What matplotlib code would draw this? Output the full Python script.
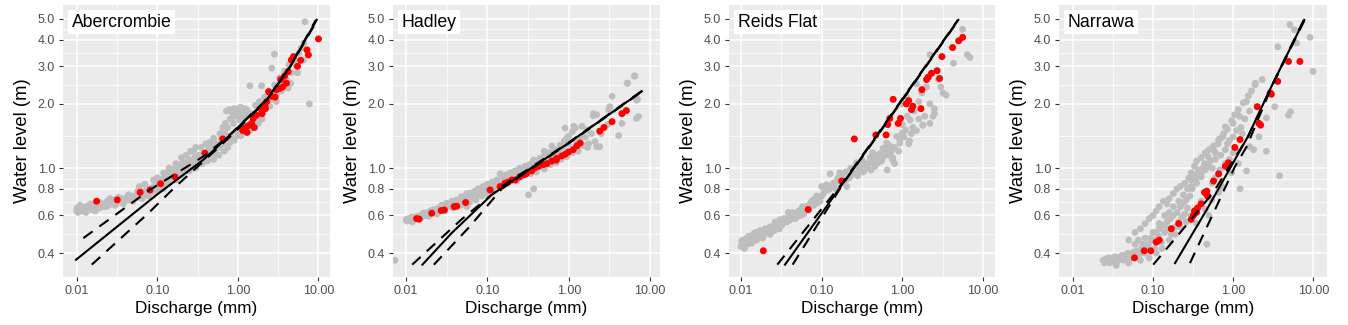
import matplotlib
matplotlib.use("Agg")
import matplotlib.pyplot as plt
from matplotlib.ticker import FixedLocator, FixedFormatter, NullFormatter

plt.rcParams['font.family'] = ['Liberation Sans', 'DejaVu Sans']

# ---------------- data (discharge q in mm, water level h in m) ----------------
panel_names = ["Abercrombie", "Hadley", "Reids Flat", "Narrawa"]

x_breaks = [0.01, 0.1, 1.0, 10.0]
x_labels = ["0.01", "0.10", "1.00", "10.00"]
y_breaks = [0.4, 0.6, 0.8, 1.0, 2.0, 3.0, 4.0, 5.0]
y_labels = ["0.4", "0.6", "0.8", "1.0", "2.0", "3.0", "4.0", "5.0"]

# --- Abercrombie
ab_gray = [(0.0100,0.63),(0.0101,0.65),(0.0104,0.62),(0.0108,0.64),(0.0112,0.66),(0.0116,0.63),(0.0120,0.65),
           (0.0125,0.64),(0.0130,0.66),(0.0136,0.65),(0.0142,0.67),(0.0150,0.64),(0.0158,0.66),(0.0165,0.68),
           (0.0175,0.65),(0.0185,0.67),(0.0195,0.69),(0.021,0.66),(0.022,0.68),(0.024,0.70),(0.025,0.67),
           (0.027,0.69),(0.029,0.71),(0.031,0.68),(0.034,0.70),(0.036,0.72),(0.039,0.70),(0.042,0.73),
           (0.045,0.71),(0.048,0.74),(0.052,0.72),(0.055,0.75),(0.058,0.73),(0.062,0.77),(0.066,0.74),
           (0.070,0.78),(0.075,0.76),(0.080,0.80),(0.085,0.77),(0.090,0.82),(0.095,0.79),(0.100,0.84),
           (0.105,0.80),(0.110,0.87),(0.115,0.83),(0.120,0.90),(0.125,0.85),(0.130,0.93),(0.135,0.88),
           (0.140,0.96),(0.150,0.91),(0.155,0.99),(0.165,0.94),(0.175,1.01),(0.185,0.96),(0.195,1.04),
           (0.21,0.98),(0.22,1.06),(0.24,1.01),(0.25,1.09),(0.27,1.04),(0.28,1.20),(0.29,1.12),(0.31,1.06),
           (0.33,1.15),(0.35,1.25),(0.35,1.10),(0.38,1.18),(0.40,1.13),(0.43,1.22),(0.45,1.32),(0.45,1.16),
           (0.48,1.26),(0.50,1.15),(0.52,1.20),(0.55,1.30),(0.60,1.25),(0.62,1.38),(0.66,1.30),(0.70,1.45),
           (0.72,1.85),(0.78,1.88),(0.84,1.83),(0.90,1.90),(0.96,1.86),(1.02,1.89),(1.08,1.93),(1.15,1.85),
           (1.22,1.90),(1.30,1.87),(0.75,1.55),(0.82,1.40),(0.88,1.62),(0.95,1.48),(1.05,1.68),(1.12,1.52),
           (1.25,1.75),(1.35,1.58),(1.45,1.80),(1.55,1.65),(1.65,1.97),(1.75,1.72),(1.85,2.05),(1.95,1.82),
           (2.15,2.15),(2.3,1.95),(2.45,2.30),(2.65,2.10),(2.85,2.45),(3.1,2.25),(3.3,2.65),(3.55,2.45),
           (3.8,2.85),(4.0,2.60),(4.3,3.05),(4.6,2.80),(5.0,3.20),(5.3,3.00),(5.7,3.45),(6.1,3.65),(6.6,3.85),
           (6.8,4.85),(2.84,3.42),(2.63,2.94),(1.41,2.43),(1.97,2.43),(7.7,2.0),(4.2,2.37),
           (0.06,0.82),(0.07,0.84),(0.09,0.88),(0.1,0.90),(0.12,0.95),(0.14,1.0),(0.17,1.05),(0.2,1.12),
           (0.23,1.15),(0.26,1.2),(0.3,1.25),(0.4,1.3),(0.5,1.38),(0.6,1.45),(0.65,1.55),(0.7,1.62),(0.8,1.7),
           (0.9,1.75),(1.0,1.78),(1.1,1.72),(1.2,1.8),(0.011,0.67),(0.013,0.62),(0.015,0.68),(0.017,0.63),
           (0.019,0.65),(0.023,0.66),(0.026,0.72),(0.03,0.67),(0.033,0.73),(0.038,0.68),(0.044,0.75),(0.05,0.70),
           (0.057,0.78),(0.065,0.72),(0.078,0.74),(0.088,0.78),(0.098,0.82),(0.12,0.80),(0.14,0.85),(0.17,0.88),
           (0.2,0.93),(0.25,0.97),(0.3,1.0),(0.36,1.05),(0.42,1.08),(0.5,1.1),(0.58,1.15),(0.68,1.2),(0.75,1.25),
           (0.8,1.32),(0.9,1.35),(1.0,1.42),(1.1,1.42),(1.4,1.5),(1.8,1.62),(2.0,1.7),(2.5,1.95),(3.0,2.05),
           (3.5,2.3),(4.5,2.5),(5.5,2.8),(6.5,3.2)]
ab_red = [(0.0177,0.70),(0.0319,0.71),(0.0613,0.77),(0.0814,0.79),(0.11,0.845),(0.166,0.91),(0.39,1.175),
          (0.65,1.37),(1.23,1.54),(1.35,1.58),(1.48,1.62),(1.55,1.71),(1.7,1.77),(1.97,1.88),(2.17,1.95),
          (2.28,2.05),(2.63,2.17),(2.4,2.28),(3.0,2.33),(3.3,2.36),(3.4,2.6),(3.8,2.7),(4.2,2.83),(4.6,3.21),
          (4.9,3.33),(7.2,3.58),(7.5,3.39),(10.0,4.03),(1.15,1.5),(1.3,1.47),(1.6,1.55),(2.0,1.8),(2.2,1.9),
          (2.9,2.15),(3.6,2.4),(4.0,2.5),(5.5,3.0),(6.0,3.2)]
ab_fit = [(0.0098,0.372),(0.0984,0.75),(0.373,1.094),(0.763,1.406),(2.28,2.09),(4.45,2.99),(9.5,4.95)]
ab_upper = [(0.0121,0.47),(0.0813,0.792),(0.373,1.134),(0.728,1.39),(2.28,2.1),(4.45,3.0),(9.3,4.95)]
ab_lower = [(0.0154,0.353),(0.0775,0.615),(0.166,0.815),(0.373,1.075),(0.88,1.45),(2.28,2.08),(4.45,2.98),(9.7,4.95)]

# --- Hadley
ha_gray = [(0.0073,0.37),(0.0100,0.573),(0.0103,0.565),(0.0107,0.58),(0.0112,0.57),(0.0117,0.59),(0.0123,0.575),
           (0.0129,0.585),(0.0136,0.595),(0.0142,0.58),(0.0149,0.60),(0.0156,0.59),(0.0163,0.615),(0.0172,0.60),
           (0.0180,0.62),(0.0188,0.61),(0.0200,0.63),(0.0217,0.64),(0.0230,0.625),(0.0250,0.65),(0.0262,0.635),
           (0.0274,0.67),(0.0290,0.655),(0.0316,0.685),(0.0335,0.665),(0.0365,0.70),(0.039,0.68),(0.042,0.71),
           (0.045,0.69),(0.048,0.735),(0.052,0.70),(0.055,0.75),(0.058,0.72),(0.062,0.765),(0.066,0.73),
           (0.070,0.78),(0.075,0.745),(0.077,0.80),(0.082,0.76),(0.088,0.82),(0.094,0.78),(0.1,0.84),(0.107,0.80),
           (0.113,0.86),(0.12,0.82),(0.13,0.88),(0.14,0.84),(0.15,0.91),(0.16,0.86),(0.17,0.93),(0.18,0.88),
           (0.19,0.95),(0.20,0.90),(0.22,0.97),(0.24,0.92),(0.25,1.0),(0.27,0.94),(0.29,1.02),(0.32,0.97),
           (0.33,1.04),(0.36,0.99),(0.38,1.08),(0.41,1.01),(0.44,1.11),(0.48,1.04),(0.50,1.14),(0.55,1.07),
           (0.58,1.18),(0.62,1.10),(0.67,1.22),(0.72,1.12),(0.78,1.28),(0.82,1.15),(0.88,1.34),(0.95,1.18),
           (0.99,1.41),(1.05,1.20),(1.1,1.48),(1.15,1.22),(1.2,1.54),(1.3,1.25),(1.45,1.57),(1.5,1.28),
           (1.75,1.30),(2.0,1.76),(2.1,1.33),(2.2,1.78),(3.1,1.88),(3.4,2.17),(4.5,1.62),(4.1,1.42),(2.2,1.26),
           (5.3,2.5),(6.4,2.7),(7.2,1.745),(6.8,2.08),(0.37,0.80),(0.32,0.75),(0.9,1.54),(1.15,1.57),(1.6,1.40),
           (2.5,1.45),(3.0,1.6),
           (0.012,0.56),(0.014,0.575),(0.016,0.6),(0.019,0.595),(0.021,0.615),(0.024,0.61),(0.028,0.64),
           (0.03,0.63),(0.034,0.66),(0.038,0.65),(0.043,0.68),(0.047,0.67),(0.05,0.72),(0.056,0.66),(0.056,0.76),
           (0.06,0.69),(0.065,0.75),(0.072,0.71),(0.08,0.78),(0.085,0.74),(0.09,0.80),(0.1,0.76),(0.11,0.82),
           (0.12,0.86),(0.125,0.79),(0.143,0.82),(0.143,0.94),(0.16,0.92),(0.175,0.85),(0.19,0.90),(0.21,0.96),
           (0.23,0.87),(0.26,0.95),(0.3,1.0),(0.34,0.94),(0.37,1.09),(0.4,0.96),(0.45,1.05),(0.5,0.99),
           (0.55,1.15),(0.6,1.04),(0.65,1.15),(0.7,1.06),(0.75,1.2),(0.8,1.1),(0.85,1.25),(0.94,1.13),
           (0.94,1.38),(1.0,1.3),(1.1,1.18),(1.2,1.35),(1.3,1.2),(1.4,1.4),(1.67,1.51),(2.0,1.8),(2.4,1.26),
           (3.2,1.94),(5.2,2.5),(6.5,2.7),(6.8,1.71),(7.0,2.1),(1.7,1.25),(1.9,1.45),(0.62,1.27),(0.5,1.2)]
ha_red = [(0.0135,0.58),(0.0145,0.577),(0.0207,0.615),(0.027,0.633),(0.0296,0.637),(0.039,0.66),(0.042,0.663),
          (0.054,0.69),(0.108,0.79),(0.143,0.82),(0.165,0.85),(0.18,0.86),(0.2,0.88),(0.22,0.88),(0.25,0.91),
          (0.28,0.93),(0.3,0.94),(0.35,0.97),(0.38,1.0),(0.43,1.02),(0.49,1.04),(0.54,1.05),(0.62,1.08),
          (0.71,1.11),(0.82,1.14),(0.9,1.16),(0.99,1.19),(1.13,1.22),(1.38,1.31),(2.4,1.49),(2.7,1.55),
          (3.4,1.65),(4.5,1.8),(5.1,1.86),(1.25,1.27),(0.7,1.09)]
ha_fit = [(0.0159,0.353),(0.0365,0.497),(0.113,0.75),(0.99,1.31),(7.9,2.29)]
ha_upper = [(0.0119,0.353),(0.048,0.575),(0.15,0.82),(0.99,1.315),(7.9,2.30)]
ha_lower = [(0.022,0.353),(0.06,0.53),(0.15,0.80),(0.99,1.305),(7.9,2.28)]

# --- Reids Flat
rf_gray = [(0.0100,0.43),(0.0102,0.455),(0.0105,0.44),(0.0112,0.44),(0.0118,0.47),(0.0123,0.46),(0.0130,0.45),
           (0.0136,0.47),(0.0142,0.49),(0.0149,0.48),(0.0156,0.46),(0.0164,0.49),(0.0172,0.51),(0.018,0.50),
           (0.019,0.48),(0.0198,0.52),(0.021,0.50),(0.0229,0.53),(0.024,0.51),(0.025,0.535),(0.0265,0.56),
           (0.0277,0.55),(0.029,0.53),(0.0304,0.565),(0.0335,0.555),(0.036,0.58),(0.0386,0.62),(0.0425,0.60),
           (0.049,0.59),(0.052,0.63),(0.056,0.64),(0.06,0.61),(0.065,0.66),(0.072,0.68),(0.079,0.71),(0.087,0.74),
           (0.095,0.70),(0.1,0.82),(0.105,0.76),(0.115,0.835),(0.12,0.79),(0.127,0.94),(0.14,0.85),(0.15,0.80),
           (0.16,0.90),(0.17,0.94),(0.186,0.88),(0.2,0.96),(0.205,0.82),(0.22,0.90),(0.235,0.93),(0.26,0.99),
           (0.28,0.92),(0.3,1.01),(0.33,0.96),(0.35,1.05),(0.38,1.05),(0.41,0.98),(0.44,1.09),(0.46,1.02),
           (0.48,1.13),(0.5,1.06),(0.53,1.17),(0.56,1.10),(0.58,1.24),(0.62,1.15),(0.64,1.31),(0.7,1.27),
           (0.73,1.2),(0.76,1.12),(0.85,1.41),(0.93,1.36),(1.0,1.46),(1.1,1.51),(1.12,2.17),(0.98,2.0),
           (1.25,1.68),(1.35,1.55),(1.5,2.48),(1.6,2.05),(1.75,2.25),(1.9,1.75),(1.8,1.59),(2.4,1.75),(2.5,1.9),
           (2.8,2.6),(2.2,3.4),(3.2,2.25),(4.3,3.1),(5.6,4.47),(6.9,3.3),(6.4,3.4),(2.0,2.4),(1.4,1.85),
           (0.8,1.05),(0.9,1.2),(1.2,1.3),(0.65,0.98),
           (0.0105,0.46),(0.011,0.42),(0.012,0.44),(0.0125,0.48),(0.0135,0.445),(0.0145,0.46),(0.015,0.50),
           (0.016,0.47),(0.017,0.49),(0.0185,0.47),(0.02,0.50),(0.022,0.52),(0.023,0.49),(0.026,0.51),
           (0.028,0.54),(0.03,0.52),(0.0304,0.573),(0.032,0.54),(0.034,0.58),(0.037,0.56),(0.04,0.57),
           (0.044,0.62),(0.047,0.58),(0.05,0.61),(0.055,0.60),(0.058,0.66),(0.062,0.63),(0.065,0.66),(0.07,0.64),
           (0.075,0.70),(0.08,0.67),(0.085,0.72),(0.09,0.69),(0.1,0.74),(0.11,0.78),(0.115,0.82),(0.125,0.80),
           (0.135,0.83),(0.15,0.86),(0.168,0.95),(0.18,0.92),(0.2,0.88),(0.23,1.0),(0.25,0.95),(0.27,1.06),
           (0.3,0.97),(0.32,1.08),(0.36,1.0),(0.4,1.12),(0.43,1.18),(0.45,1.05),(0.5,1.15),(0.55,1.08),
           (0.6,1.2),(0.64,1.22),(0.68,1.15),(0.76,1.09),(0.8,1.25),(0.93,1.31),(1.05,1.4),(1.23,1.34),
           (1.3,1.45),(1.5,1.5),(1.8,1.59),(1.6,1.7),(2.2,1.62),(2.5,1.8),(2.2,2.0),(3.0,2.4),(3.5,2.2),
           (1.0,1.6),(1.15,1.75)]
rf_red = [(0.0189,0.41),(0.068,0.64),(0.177,0.87),(0.254,1.37),(0.47,1.43),(0.63,1.43),(0.77,2.1),(0.7,1.71),
          (0.89,1.62),(0.95,1.71),(1.12,2.0),(1.2,2.07),(1.3,1.88),(1.7,1.9),(1.75,2.33),(2.0,2.6),(2.1,2.67),
          (2.3,2.78),(2.7,2.86),(2.9,2.63),(3.1,3.33),(4.2,3.67),(5.0,3.95),(5.6,4.1),(1.35,1.95),(0.66,1.6)]
rf_fit = [(0.0351,0.353),(0.4,1.28),(4.94,4.95)]
rf_upper = [(0.0282,0.353),(0.186,0.865),(0.4,1.29),(4.9,4.95)]
rf_lower = [(0.0437,0.353),(0.186,0.85),(0.4,1.27),(5.0,4.95)]

# --- Narrawa
na_gray = [(0.024,0.37),(0.025,0.36),(0.026,0.375),(0.028,0.38),(0.029,0.36),(0.031,0.365),(0.032,0.38),
           (0.034,0.385),(0.035,0.37),(0.037,0.37),(0.039,0.38),(0.041,0.39),(0.043,0.37),(0.045,0.38),
           (0.047,0.395),(0.049,0.40),(0.051,0.375),(0.054,0.39),(0.058,0.405),(0.063,0.41),(0.066,0.46),
           (0.068,0.395),(0.072,0.42),(0.075,0.44),(0.079,0.40),(0.084,0.43),(0.088,0.44),(0.094,0.47),
           (0.101,0.46),(0.105,0.42),(0.11,0.50),(0.117,0.48),(0.12,0.52),(0.128,0.45),(0.135,0.54),(0.14,0.50),
           (0.15,0.56),(0.155,0.52),(0.165,0.58),(0.17,0.49),(0.18,0.60),(0.19,0.53),(0.2,0.62),(0.21,0.56),
           (0.22,0.66),(0.23,0.59),(0.24,0.69),(0.25,0.61),(0.26,0.71),(0.27,0.65),(0.29,0.74),(0.3,0.88),
           (0.31,0.80),(0.33,0.93),(0.35,0.85),(0.37,0.98),(0.4,0.91),(0.42,1.0),(0.44,1.05),(0.47,0.44),
           (0.49,1.13),(0.52,1.08),(0.54,0.71),(0.57,1.27),(0.6,1.18),(0.66,1.36),(0.66,0.77),(0.72,0.82),
           (0.75,1.41),(0.8,1.56),(0.85,1.3),(0.96,1.67),(0.96,0.95),(1.05,1.78),(1.1,1.2),(1.16,1.88),
           (1.16,1.05),(1.22,0.8),(1.34,2.02),(1.47,0.97),(1.55,2.18),(1.6,1.26),(1.8,1.22),(1.88,2.46),(2.3,2.6),
           (2.6,1.2),(2.6,1.72),(3.3,1.94),(3.6,3.7),(3.8,0.92),(4.9,1.77),(5.2,1.84),(5.1,4.7),(5.8,4.45),
           (6.2,3.85),(9.1,4.1),(9.9,2.84),(2.1,1.4),(1.3,1.45),(0.9,1.1),(0.5,0.6),(0.45,0.64),
           (0.38,0.66),(0.35,0.55),(0.6,0.9),
           (0.05,0.46),(0.06,0.5),(0.07,0.52),(0.08,0.55),(0.09,0.58),(0.1,0.6),(0.11,0.63),(0.12,0.66),
           (0.135,0.70),(0.15,0.68),(0.16,0.72),(0.18,0.76),(0.2,0.80),(0.22,0.82),(0.25,0.85),(0.28,0.90),
           (0.3,0.95),(0.33,1.02),(0.35,1.08),(0.4,1.12),(0.45,1.18),(0.5,1.22),(0.57,1.22),(0.65,1.3),(0.7,1.38),
           (0.76,1.45),(0.85,1.52),(1.0,1.62),(1.2,1.75),(1.47,2.05),(1.7,2.3),(1.9,2.5),
           (0.06,0.44),(0.08,0.47),(0.1,0.5),(0.12,0.55),(0.14,0.6),(0.16,0.62),(0.18,0.66),(0.21,0.7),
           (0.24,0.75),(0.27,0.8),(0.3,0.82),(0.35,0.9),(0.4,0.95),(0.45,0.98),(0.5,1.02),(0.55,1.0),(0.6,1.1),
           (0.7,1.15),(0.8,1.22),(0.9,1.35),(1.0,1.4),(1.1,1.5),(1.25,1.55),(1.4,1.7),(1.6,1.85),
           (0.035,0.35),(0.05,0.36),(0.07,0.37),(0.09,0.38),(0.11,0.40),(0.13,0.42),(0.16,0.46),(0.19,0.49),
           (0.22,0.53),(0.26,0.56),(0.3,0.6),(0.35,0.64),(0.4,0.7),(0.47,0.76),(0.55,0.85),(0.68,0.98),
           (0.8,1.05),(1.0,1.18)]
na_red = [(0.059,0.38),(0.078,0.41),(0.094,0.41),(0.11,0.45),(0.12,0.46),(0.17,0.52),(0.21,0.55),(0.30,0.575),
          (0.32,0.60),(0.33,0.63),(0.36,0.65),(0.40,0.68),(0.44,0.77),(0.47,0.78),(0.48,0.74),(0.57,0.87),
          (0.66,0.94),(0.8,1.02),(0.87,1.06),(1.05,1.25),(1.22,1.36),(2.0,1.94),(2.1,1.62),(2.2,1.59),(2.9,2.25),
          (3.0,2.22),(3.6,2.55),(4.9,3.16),(6.8,3.16),(0.35,0.62),(0.46,0.76)]
na_fit = [(0.189,0.359),(0.468,0.638),(1.53,1.406),(3.0,2.41),(7.7,4.95)]
na_upper = [(0.101,0.353),(0.218,0.498),(0.561,0.766),(1.53,1.40),(3.0,2.41),(7.6,4.95)]
na_lower = [(0.29,0.359),(0.594,0.638),(1.055,1.018),(1.475,1.26),(3.0,2.39),(7.8,4.95)]

panels = [
    (ab_gray, ab_red, ab_fit, ab_upper, ab_lower),
    (ha_gray, ha_red, ha_fit, ha_upper, ha_lower),
    (rf_gray, rf_red, rf_fit, rf_upper, rf_lower),
    (na_gray, na_red, na_fit, na_upper, na_lower),
]

# ---------------- layout ----------------
W, H = 1348, 325
fig = plt.figure(figsize=(W / 100, H / 100), dpi=100)
panel_px = [(63, 330), (393, 660), (729, 995), (1059, 1327)]
xlims = [(0.00677, 13.9), (0.00692, 13.2), (0.0071, 14.1), (0.00676, 14.8)]
top_px, bot_px = 5, 277
ylim = (0.309, 5.81)

x_minor = [0.0316, 0.316, 3.16]
y_minor = [0.49, 0.693, 0.894, 1.414, 2.449, 3.464, 4.472]

for i, (name, data) in enumerate(zip(panel_names, panels)):
    gray, red, fit, upper, lower = data
    l, r = panel_px[i]
    ax = fig.add_axes([l / W, 1 - bot_px / H, (r - l) / W, (bot_px - top_px) / H])
    ax.set_facecolor('#EBEBEB')
    for s in ax.spines.values():
        s.set_visible(False)
    ax.set_xscale('log')
    ax.set_yscale('log')
    ax.set_xlim(*xlims[i])
    ax.set_ylim(*ylim)

    ax.xaxis.set_major_locator(FixedLocator(x_breaks))
    ax.xaxis.set_major_formatter(FixedFormatter(x_labels))
    ax.xaxis.set_minor_locator(FixedLocator(x_minor))
    ax.xaxis.set_minor_formatter(NullFormatter())
    ax.yaxis.set_major_locator(FixedLocator(y_breaks))
    ax.yaxis.set_major_formatter(FixedFormatter(y_labels))
    ax.yaxis.set_minor_locator(FixedLocator(y_minor))
    ax.yaxis.set_minor_formatter(NullFormatter())

    ax.grid(which='major', color='white', lw=1.1)
    ax.grid(which='minor', color='white', lw=0.55)
    ax.set_axisbelow(True)
    ax.tick_params(which='major', length=3.2, width=0.8, color='#333333',
                   labelsize=9, labelcolor='#4D4D4D', pad=2.5)
    ax.tick_params(which='minor', length=0)

    gq, gh = zip(*gray)
    ax.scatter(gq, gh, s=24, c='#BEBEBE', edgecolors='none', zorder=2)
    rq, rh = zip(*red)
    ax.scatter(rq, rh, s=25, c='#FF0000', edgecolors='none', zorder=3)

    fq, fh = zip(*fit)
    ax.plot(fq, fh, color='black', lw=1.5, zorder=4)
    for line in (upper, lower):
        lq, lh = zip(*line)
        ln, = ax.plot(lq, lh, color='black', lw=1.5, zorder=4)
        ln.set_dashes((5.5, 4.0))

    ax.set_xlabel('Discharge (mm)', fontsize=12.3, labelpad=3)
    ax.set_ylabel('Water level (m)', fontsize=13.3, labelpad=5)

    ax.text(0.0326, 0.92, name, transform=ax.transAxes, ha='left', va='baseline',
            fontsize=12.7, color='black', zorder=6,
            bbox=dict(boxstyle='square,pad=0.2', fc='white', ec='none'))

fig.savefig('out.png', dpi=100)
